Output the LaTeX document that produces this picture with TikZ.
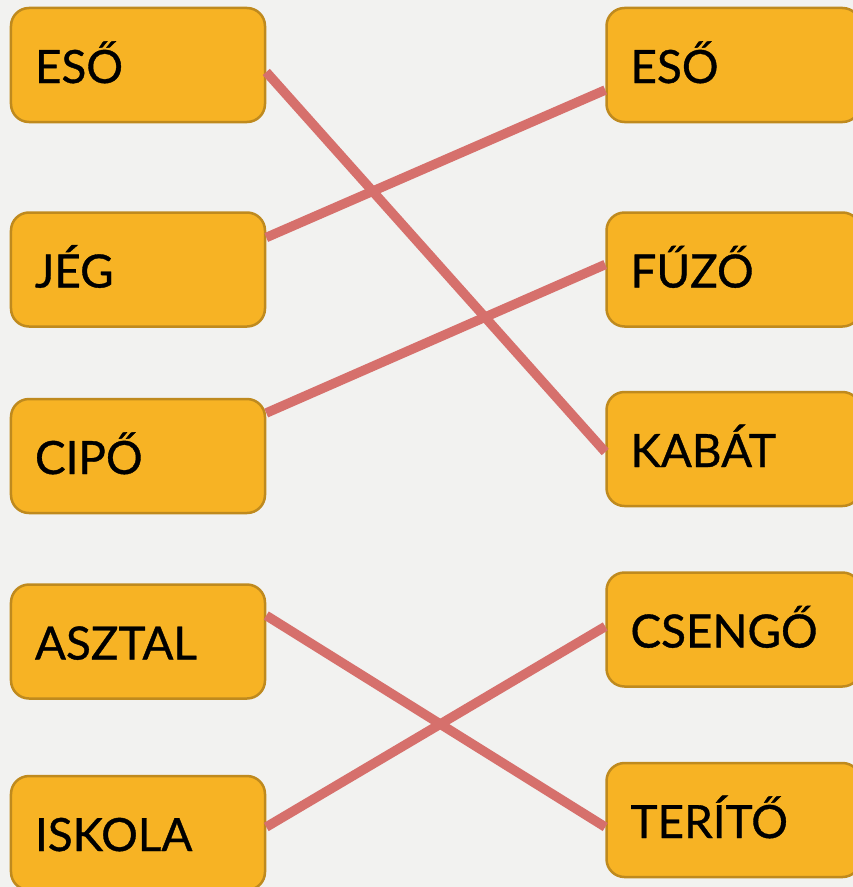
\documentclass[tikz,border=0pt]{standalone}
\usepackage{fontspec}
\setmainfont[FakeBold=0.8]{Lato}
\usepackage{xcolor}
\definecolor{colorBox}{HTML}{F7B324}
\definecolor{colorBorder}{HTML}{BF8A1E}
\definecolor{colorLink}{HTML}{D6706C}
\definecolor{colorPage}{HTML}{F2F2F0}
\usepackage{tikz}
\usetikzlibrary{positioning}
\tikzset{word/.style={draw=colorBorder, fill=colorBox, line width=2.5bp, rounded corners=18bp, minimum height=114bp, text width=206bp, inner xsep=24bp, align=left, text height=36bp, text depth=0bp, font=\fontsize{46}{54}\selectfont},
link/.style={draw=colorLink, line width=9.5bp}}

\begin{document}
\begin{tikzpicture}[x=1bp, y=-1bp]
\fill[colorPage] (0,0) rectangle (853,887);
\useasboundingbox (0,0) rectangle (853,887);
\node[word] (l1) at (138,65) {ESŐ};
\node[word, below=88bp of l1] (l2) {JÉG};
\node[word, below=70bp of l2] (l3) {CIPŐ};
\node[word, below=69bp of l3] (l4) {ASZTAL};
\node[word, below=75bp of l4] (l5) {ISKOLA};
\node[word, right=339bp of l1] (r1) {ESŐ};
\node[word, below=88bp of r1] (r2) {FŰZŐ};
\node[word, below=63bp of r2] (r3) {KABÁT};
\node[word, below=64bp of r3] (r4) {CSENGŐ};
\node[word, below=74bp of r4] (r5) {TERÍTŐ};
\draw[link] ([yshift=-7bp]l1.east) -- ([yshift=-3bp]r3.west);
\draw[link] ([yshift=32bp]l2.east) -- ([yshift=-25bp]r1.west);
\draw[link] ([yshift=43bp]l3.east) -- ([yshift=5bp]r2.west);
\draw[link] ([yshift=26bp]l4.east) -- ([yshift=-7bp]r5.west);
\draw[link] ([yshift=6bp]l5.east) -- ([yshift=3bp]r4.west);
\end{tikzpicture}
\end{document}
